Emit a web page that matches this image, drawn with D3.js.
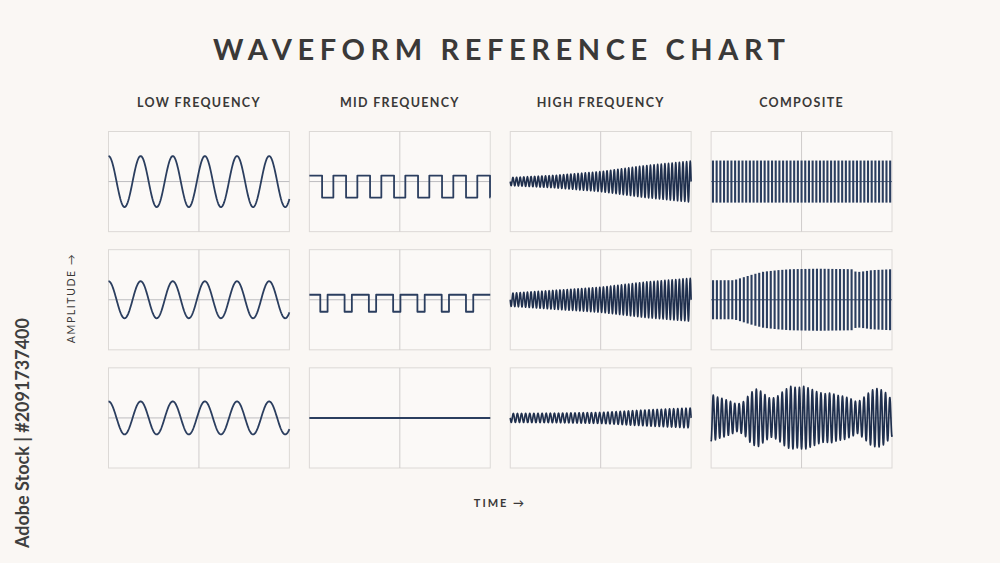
<!DOCTYPE html>
<html>
<head>
<meta charset="utf-8">
<script src="https://cdn.jsdelivr.net/npm/d3@7"></script>
<style>
  html, body { margin: 0; padding: 0; background: #faf7f4; }
  svg { display: block; }
  text { font-family: "Lato", "Open Sans", sans-serif; }
</style>
</head>
<body>
<svg id="chart" width="1000" height="563"></svg>
<script>
// ---------- data ----------
const title = "WAVEFORM REFERENCE CHART";
const columns = ["LOW FREQUENCY", "MID FREQUENCY", "HIGH FREQUENCY", "COMPOSITE"];
const rows = ["r1", "r2", "r3"];
const xAxisLabel = "TIME \u2192";
const yAxisLabel = "AMPLITUDE \u2192";
const stockLabel = "Adobe Stock | #2091737400";

// low frequency: sine waves (cycles across panel, amplitude in units of half panel height)
const lowCycles = [5.63, 5.63, 5.63];
const lowAmp = [0.51, 0.37, 0.33];

// mid frequency: square / pulse waves
const midCycles = [7.54, 7.45, 0];
const midDuty = [0.53, 0.70, 1];
const midPhase = [0, 0.25, 0];
const midHigh = [0.12, 0.10, 0];
const midLow = [-0.32, -0.24, 0];

// high frequency: dense waves with growing envelope
const highCycles = [50, 50, 44];
const highEnvT = [0, 0.25, 0.5, 0.75, 1];
const highEnvRow1 = [0.08, 0.125, 0.20, 0.32, 0.41];
const highEnvRow2 = [0.13, 0.19, 0.25, 0.355, 0.43];
const highEnvRow3 = [0.09, 0.095, 0.11, 0.16, 0.20];

// composite
const compCycles = [49, 47, 42];
const compEnvT1 = [0, 1];
const compEnv1 = [0.42, 0.42];
const compEnvT2 = [0, 0.126, 0.18, 0.235, 0.29, 0.366, 0.44, 0.59, 0.776, 0.804, 0.85, 0.887, 1];
const compEnv2 = [0.39, 0.39, 0.45, 0.51, 0.56, 0.59, 0.61, 0.62, 0.61, 0.55, 0.57, 0.59, 0.61];
const compEnvT3 = [0.005, 0.033, 0.070, 0.107, 0.144, 0.181, 0.218, 0.255, 0.292, 0.329, 0.366,
                   0.403, 0.440, 0.477, 0.514, 0.551, 0.588, 0.625, 0.662, 0.699, 0.736, 0.773,
                   0.810, 0.847, 0.884, 0.921, 0.958, 0.995];
const compEnv3 = [0.47, 0.42, 0.38, 0.33, 0.27, 0.33, 0.50, 0.59, 0.48, 0.38, 0.43, 0.55, 0.63, 0.60,
                  0.63, 0.58, 0.52, 0.48, 0.50, 0.45, 0.43, 0.38, 0.31, 0.42, 0.55, 0.59, 0.53, 0.38];

// ---------- layout ----------
const W = 1000, H = 563;
const svg = d3.select("#chart");
const BG = "#faf7f4", INK = "#3a3938", WAVE = "#2b3e5f", WAVE_DARK = "#1f2f4d";

svg.append("rect").attr("width", W).attr("height", H).attr("fill", BG);

const colScale = d3.scaleBand().domain(columns).range([108.5, 892]).paddingInner(0.0995);
const rowScale = d3.scaleBand().domain(rows).range([131.5, 468]).paddingInner(0.1525);
const bw = colScale.bandwidth(), bh = rowScale.bandwidth();

const x = d3.scaleLinear().domain([0, 1]).range([0, bw]);
const y = d3.scaleLinear().domain([-1, 1]).range([bh, 0]);
const line = d3.line().x(d => x(d[0])).y(d => y(d[1]));
const stepLine = d3.line().x(d => x(d[0])).y(d => y(d[1])).curve(d3.curveStepAfter);

// ---------- generators ----------
function sinePoints(cycles, ampFn, phase, perCycle) {
  const n = Math.max(200, Math.round(cycles * perCycle));
  return d3.range(n + 1).map(i => {
    const t = i / n;
    return [t, ampFn(t) * Math.cos(2 * Math.PI * cycles * t + phase)];
  });
}
function squarePoints(cycles, duty, phase, hi, lo) {
  if (cycles === 0) return [[0, hi], [1, hi]];
  const pts = [];
  const valAt = u => ((u % 1) + 1) % 1 < duty ? hi : lo;
  pts.push([0, valAt(phase)]);
  const uEnd = cycles + phase;
  const edges = [];
  for (let k = Math.floor(phase); k <= Math.ceil(uEnd); k++) {
    edges.push(k + duty, k + 1);
  }
  edges.filter(u => u > phase && u < uEnd).sort((a, b) => a - b)
    .forEach(u => pts.push([(u - phase) / cycles, valAt(u + 1e-6)]));
  pts.push([1, pts[pts.length - 1][1]]);
  return pts;
}
function barData(cycles, ampFn) {
  return d3.range(cycles).map(k => {
    const t = (k + 0.5) / cycles;
    return { t, a: ampFn(t) };
  });
}

const highEnvs = [highEnvRow1, highEnvRow2, highEnvRow3];
const compEnvs = [[compEnvT1, compEnv1], [compEnvT2, compEnv2], [compEnvT3, compEnv3]];

// ---------- panels ----------
columns.forEach((col, ci) => {
  rows.forEach((row, ri) => {
    const g = svg.append("g").attr("transform", `translate(${colScale(col)},${rowScale(row)})`);
    g.append("rect").attr("width", bw).attr("height", bh)
      .attr("fill", "#fbf9f7").attr("stroke", "#dcd9d6").attr("stroke-width", 1);
    g.append("line").attr("x1", x(0.5)).attr("x2", x(0.5)).attr("y1", 0).attr("y2", bh)
      .attr("stroke", "#cfcccb").attr("stroke-width", 1);
    g.append("line").attr("x1", 0).attr("x2", bw).attr("y1", y(0)).attr("y2", y(0))
      .attr("stroke", "#bdbcbf").attr("stroke-width", 1);

    let d = null, sw = 1.8, color = WAVE;
    if (ci === 0) {
      d = line(sinePoints(lowCycles[ri], () => lowAmp[ri], 0, 60));
    } else if (ci === 1) {
      d = stepLine(squarePoints(midCycles[ri], midDuty[ri], midPhase[ri], midHigh[ri], midLow[ri]));
      sw = ri === 2 ? 2 : 1.8;
    } else if (ci === 2) {
      const env = d3.scaleLinear().domain(highEnvT).range(highEnvs[ri]);
      d = line(sinePoints(highCycles[ri], env, Math.PI / 2, 16));
      sw = 1.6; color = WAVE_DARK;
    } else {
      const env = d3.scaleLinear().domain(compEnvs[ri][0]).range(compEnvs[ri][1]).clamp(true);
      if (ri < 2) {
        g.append("line").attr("x1", 0).attr("x2", bw).attr("y1", y(0)).attr("y2", y(0))
          .attr("stroke", "#5b6a85").attr("stroke-width", 1);
        g.selectAll(".bar").data(barData(compCycles[ri], env)).join("line").attr("class", "bar")
          .attr("x1", b => x(b.t)).attr("x2", b => x(b.t))
          .attr("y1", b => y(b.a)).attr("y2", b => y(-b.a))
          .attr("stroke", WAVE).attr("stroke-width", 2.1);
      } else {
        d = line(sinePoints(compCycles[ri], env, Math.PI, 16));
        sw = 1.7; color = WAVE_DARK;
      }
    }
    if (d) g.append("path").attr("d", d).attr("fill", "none").attr("stroke", color)
      .attr("stroke-width", sw).attr("stroke-linejoin", "round");
  });
});

// ---------- text ----------
svg.append("text").attr("x", 499).attr("y", 60).attr("text-anchor", "middle")
  .attr("font-size", 29).attr("font-weight", 700).attr("fill", INK)
  .attr("textLength", 572).attr("lengthAdjust", "spacing")
  .text(title);

svg.selectAll(".colhead").data(columns).join("text").attr("class", "colhead")
  .attr("x", d => colScale(d) + bw / 2).attr("y", 106.5).attr("text-anchor", "middle")
  .attr("font-size", 12.5).attr("font-weight", 700).attr("fill", INK)
  .attr("letter-spacing", 1.3)
  .text(d => d);

svg.append("text").attr("x", 500).attr("y", 507).attr("text-anchor", "middle")
  .attr("font-size", 11).attr("font-weight", 700).attr("fill", INK)
  .attr("letter-spacing", 2).text(xAxisLabel);

svg.append("text").attr("transform", "translate(75,298) rotate(-90)").attr("text-anchor", "middle")
  .attr("font-size", 10.5).attr("font-weight", 400).attr("fill", INK)
  .attr("letter-spacing", 1.6).text(yAxisLabel);

svg.append("text").attr("transform", "translate(29,433) rotate(-90)").attr("text-anchor", "middle")
  .attr("font-size", 18).attr("font-weight", 700).attr("fill", "#3f3f3f")
  .attr("textLength", 230).attr("lengthAdjust", "spacingAndGlyphs").text(stockLabel);
</script>
</body>
</html>
